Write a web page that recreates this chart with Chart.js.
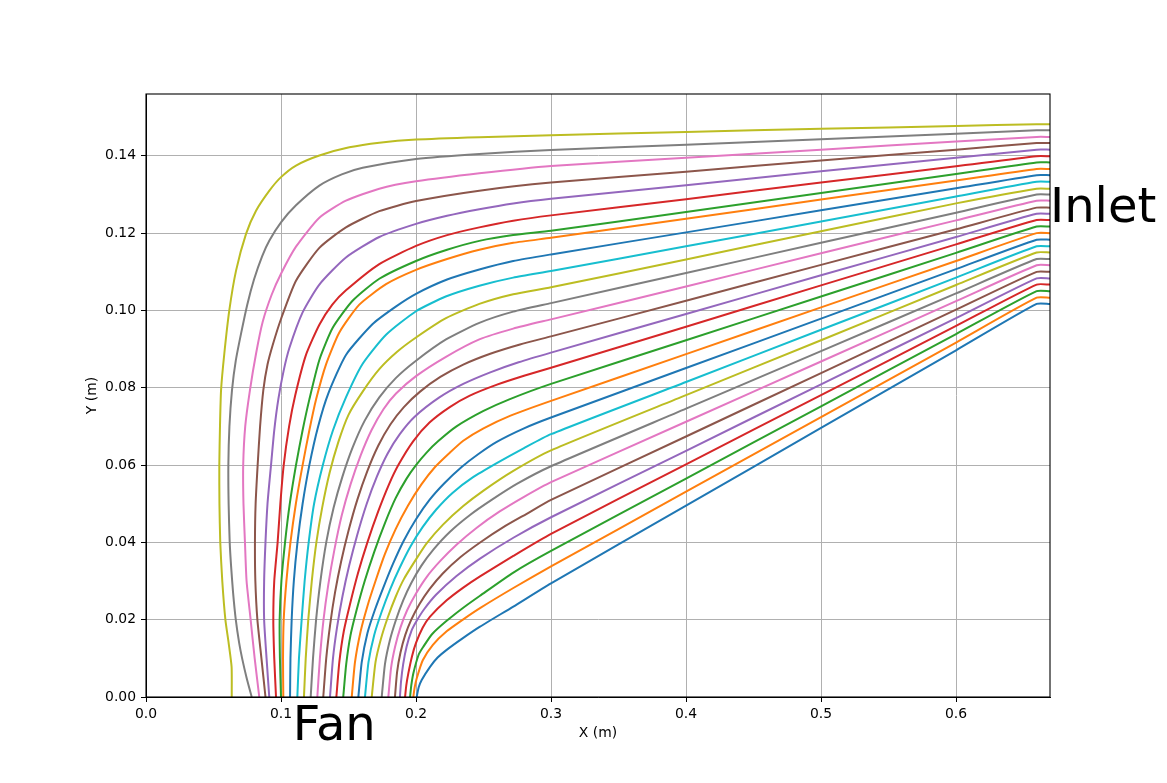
<!DOCTYPE html>
<html>
<head>
<meta charset="utf-8">
<title>Streamlines</title>
<script src="https://cdn.jsdelivr.net/npm/chart.js@4/dist/chart.umd.min.js"></script>
<style>
  html, body { margin: 0; padding: 0; background: #fff; }
  #wrap { width: 1167px; height: 783px; }
</style>
</head>
<body>
<div id="wrap"><canvas id="flowChart" width="1167" height="783"></canvas></div>
<script>
// --- Axis ticks ---
const xTicks = [0, 0.1, 0.2, 0.3, 0.4, 0.5, 0.6];
const yTicks = [0, 0.02, 0.04, 0.06, 0.08, 0.10, 0.12, 0.14];
const xMax = 0.6696;
const yMax = 0.156;

// --- Streamlines, [x, y] in metres, bottom (fan) to right (inlet) ---
const s00 = [[0.2005,0],[0.2020,0.0025],[0.2042,0.0044],[0.2104,0.0078],[0.2160,0.0102],[0.2227,0.0122],[0.2350,0.0153],[0.2474,0.0182],[0.2721,0.0234],[0.3000,0.0294],[0.4000,0.0495],[0.5000,0.0696],[0.6000,0.0897],[0.6597,0.1017],[0.6696,0.1017]];
const s01 = [[0.1980,0],[0.1990,0.0025],[0.2005,0.0048],[0.2050,0.0095],[0.2125,0.0135],[0.2227,0.0170],[0.2350,0.0201],[0.2474,0.0230],[0.2721,0.0282],[0.3000,0.0338],[0.4000,0.0531],[0.5000,0.0724],[0.6000,0.0917],[0.6597,0.1033],[0.6696,0.1033]];
const s02 = [[0.1956,0],[0.1965,0.0030],[0.1980,0.0061],[0.2020,0.0110],[0.2054,0.0130],[0.2120,0.0163],[0.2227,0.0197],[0.2350,0.0231],[0.2474,0.0262],[0.2721,0.0322],[0.3000,0.0378],[0.4000,0.0565],[0.5000,0.0752],[0.6000,0.0939],[0.6597,0.1050],[0.6696,0.1050]];
const s03 = [[0.1919,0],[0.1928,0.0030],[0.1943,0.0061],[0.1970,0.0105],[0.2000,0.0140],[0.2050,0.0180],[0.2104,0.0208],[0.2227,0.0250],[0.2350,0.0283],[0.2474,0.0312],[0.2721,0.0365],[0.3000,0.0422],[0.4000,0.0602],[0.5000,0.0781],[0.6000,0.0960],[0.6597,0.1067],[0.6696,0.1067]];
const s04 = [[0.1881,0],[0.1889,0.0040],[0.1905,0.0085],[0.1930,0.0130],[0.1965,0.0170],[0.2005,0.0197],[0.2060,0.0227],[0.2150,0.0265],[0.2300,0.0313],[0.2474,0.0358],[0.2721,0.0412],[0.3000,0.0465],[0.4000,0.0637],[0.5000,0.0809],[0.6000,0.0980],[0.6597,0.1083],[0.6696,0.1083]];
const s05 = [[0.1844,0],[0.1860,0.0065],[0.1885,0.0115],[0.1920,0.0160],[0.1965,0.0200],[0.2025,0.0240],[0.2100,0.0279],[0.2200,0.0320],[0.2330,0.0362],[0.2480,0.0401],[0.2650,0.0440],[0.2820,0.0474],[0.3000,0.0510],[0.4000,0.0674],[0.5000,0.0838],[0.6000,0.1002],[0.6597,0.1100],[0.6696,0.1100]];
const s06 = [[0.1795,0],[0.1815,0.0075],[0.1845,0.0130],[0.1885,0.0180],[0.1935,0.0225],[0.2000,0.0268],[0.2080,0.0311],[0.2180,0.0352],[0.2300,0.0394],[0.2450,0.0438],[0.2620,0.0480],[0.2800,0.0518],[0.3000,0.0556],[0.4000,0.0712],[0.5000,0.0868],[0.6000,0.1024],[0.6597,0.1117],[0.6696,0.1117]];
const s07 = [[0.1746,0],[0.1770,0.0085],[0.1805,0.0145],[0.1850,0.0198],[0.1905,0.0250],[0.1965,0.0295],[0.2040,0.0340],[0.2130,0.0382],[0.2250,0.0427],[0.2400,0.0471],[0.2560,0.0510],[0.2750,0.0552],[0.3000,0.0597],[0.4000,0.0746],[0.5000,0.0895],[0.6000,0.1044],[0.6597,0.1133],[0.6696,0.1133]];
const s08 = [[0.1672,0],[0.1700,0.0090],[0.1740,0.0150],[0.1790,0.0205],[0.1850,0.0260],[0.1910,0.0305],[0.2000,0.0356],[0.2080,0.0398],[0.2200,0.0446],[0.2350,0.0494],[0.2500,0.0534],[0.2721,0.0585],[0.3000,0.0638],[0.4000,0.0781],[0.5000,0.0923],[0.6000,0.1066],[0.6597,0.1150],[0.6696,0.1150]];
const s09 = [[0.1622,0],[0.1648,0.0090],[0.1690,0.0160],[0.1745,0.0220],[0.1810,0.0280],[0.1880,0.0335],[0.1960,0.0390],[0.2050,0.0440],[0.2150,0.0485],[0.2270,0.0528],[0.2420,0.0568],[0.2598,0.0605],[0.2800,0.0644],[0.3000,0.0680],[0.4000,0.0815],[0.5000,0.0950],[0.6000,0.1085],[0.6597,0.1166],[0.6696,0.1166]];
const s10 = [[0.1573,0],[0.1598,0.0090],[0.1640,0.0165],[0.1695,0.0225],[0.1760,0.0285],[0.1830,0.0345],[0.1910,0.0405],[0.2000,0.0460],[0.2100,0.0510],[0.2210,0.0553],[0.2338,0.0595],[0.2460,0.0628],[0.2598,0.0660],[0.2800,0.0695],[0.3000,0.0723],[0.4000,0.0851],[0.5000,0.0979],[0.6000,0.1107],[0.6597,0.1183],[0.6696,0.1183]];
const s11 = [[0.1524,0],[0.1548,0.0090],[0.1590,0.0170],[0.1640,0.0235],[0.1700,0.0300],[0.1770,0.0370],[0.1850,0.0435],[0.1940,0.0495],[0.2040,0.0550],[0.2141,0.0595],[0.2250,0.0632],[0.2350,0.0663],[0.2500,0.0695],[0.2700,0.0728],[0.3000,0.0766],[0.4000,0.0887],[0.5000,0.1008],[0.6000,0.1128],[0.6597,0.1200],[0.6696,0.1200]];
const s12 = [[0.1461,0],[0.1483,0.0085],[0.1515,0.0160],[0.1560,0.0225],[0.1620,0.0300],[0.1690,0.0375],[0.1770,0.0450],[0.1850,0.0515],[0.1930,0.0565],[0.2000,0.0600],[0.2080,0.0633],[0.2165,0.0662],[0.2300,0.0700],[0.2500,0.0740],[0.2691,0.0770],[0.3000,0.0810],[0.4000,0.0923],[0.5000,0.1036],[0.6000,0.1149],[0.6597,0.1217],[0.6696,0.1217]];
const s13 = [[0.1410,0],[0.1432,0.0090],[0.1465,0.0170],[0.1511,0.0240],[0.1570,0.0320],[0.1640,0.0400],[0.1720,0.0480],[0.1800,0.0550],[0.1869,0.0600],[0.1980,0.0662],[0.2100,0.0710],[0.2250,0.0750],[0.2395,0.0779],[0.2600,0.0808],[0.2800,0.0831],[0.3000,0.0852],[0.4000,0.0958],[0.5000,0.1065],[0.6000,0.1171],[0.6597,0.1234],[0.6696,0.1234]];
const s14 = [[0.1363,0],[0.1385,0.0100],[0.1415,0.0180],[0.1455,0.0260],[0.1505,0.0340],[0.1565,0.0420],[0.1635,0.0500],[0.1710,0.0570],[0.1790,0.0630],[0.1880,0.0680],[0.1990,0.0725],[0.2173,0.0775],[0.2350,0.0810],[0.2550,0.0840],[0.2760,0.0866],[0.3000,0.0891],[0.4000,0.0991],[0.5000,0.1091],[0.6000,0.1190],[0.6597,0.1250],[0.6696,0.1250]];
const s15 = [[0.1313,0],[0.1335,0.0100],[0.1365,0.0190],[0.1400,0.0270],[0.1445,0.0350],[0.1500,0.0430],[0.1565,0.0510],[0.1640,0.0585],[0.1720,0.0650],[0.1810,0.0705],[0.1910,0.0750],[0.2030,0.0790],[0.2180,0.0828],[0.2350,0.0860],[0.2550,0.0888],[0.2770,0.0912],[0.3000,0.0933],[0.4000,0.1025],[0.5000,0.1118],[0.6000,0.1210],[0.6597,0.1266],[0.6696,0.1266]];
const s16 = [[0.1269,0],[0.1288,0.0100],[0.1315,0.0200],[0.1350,0.0290],[0.1395,0.0380],[0.1450,0.0470],[0.1515,0.0550],[0.1590,0.0625],[0.1670,0.0690],[0.1760,0.0745],[0.1852,0.0785],[0.2000,0.0830],[0.2222,0.0880],[0.2469,0.0925],[0.2720,0.0953],[0.3000,0.0977],[0.4000,0.1062],[0.5000,0.1148],[0.6000,0.1233],[0.6597,0.1284],[0.6696,0.1284]];
const s17 = [[0.1220,0],[0.1237,0.0100],[0.1260,0.0200],[0.1292,0.0300],[0.1335,0.0400],[0.1390,0.0490],[0.1455,0.0570],[0.1530,0.0645],[0.1620,0.0715],[0.1728,0.0775],[0.1850,0.0825],[0.2000,0.0870],[0.2222,0.0925],[0.2469,0.0968],[0.2720,0.0997],[0.3000,0.1019],[0.4000,0.1097],[0.5000,0.1175],[0.6000,0.1253],[0.6597,0.1300],[0.6696,0.1300]];
const s18 = [[0.1170,0],[0.1183,0.0100],[0.1202,0.0200],[0.1228,0.0300],[0.1262,0.0400],[0.1305,0.0490],[0.1360,0.0580],[0.1425,0.0660],[0.1500,0.0730],[0.1605,0.0790],[0.1728,0.0848],[0.1860,0.0893],[0.2000,0.0930],[0.2222,0.0980],[0.2469,0.1017],[0.2720,0.1042],[0.3000,0.1060],[0.4000,0.1132],[0.5000,0.1205],[0.6000,0.1277],[0.6597,0.1315],[0.6696,0.1315]];
const s19 = [[0.1121,0],[0.1133,0.0100],[0.1153,0.0200],[0.1175,0.0300],[0.1205,0.0400],[0.1245,0.0500],[0.1310,0.0600],[0.1385,0.0690],[0.1481,0.0775],[0.1605,0.0862],[0.1778,0.0937],[0.2000,0.0998],[0.2220,0.1036],[0.2469,0.1064],[0.2720,0.1085],[0.3000,0.1102],[0.4000,0.1166],[0.5000,0.1230],[0.6000,0.1295],[0.6597,0.1333],[0.6696,0.1333]];
const s20 = [[0.1067,0],[0.1070,0.0100],[0.1079,0.0200],[0.1095,0.0300],[0.1122,0.0400],[0.1160,0.0500],[0.1210,0.0600],[0.1275,0.0700],[0.1350,0.0785],[0.1481,0.0885],[0.1679,0.0965],[0.1850,0.1010],[0.2000,0.1043],[0.2230,0.1080],[0.2469,0.1106],[0.2720,0.1128],[0.3000,0.1145],[0.4000,0.1202],[0.5000,0.1259],[0.6000,0.1316],[0.6597,0.1350],[0.6696,0.1350]];
const s21 = [[0.1017,0],[0.1015,0.0100],[0.1020,0.0200],[0.1040,0.0300],[0.1070,0.0400],[0.1110,0.0500],[0.1160,0.0600],[0.1210,0.0690],[0.1260,0.0770],[0.1333,0.0860],[0.1432,0.0943],[0.1580,0.1015],[0.1778,0.1068],[0.2000,0.1105],[0.2230,0.1133],[0.2469,0.1157],[0.2720,0.1175],[0.3000,0.1188],[0.4000,0.1237],[0.5000,0.1287],[0.6000,0.1336],[0.6597,0.1366],[0.6696,0.1366]];
const s22 = [[0.1000,0],[0.0992,0.0100],[0.0990,0.0200],[0.1003,0.0300],[0.1030,0.0400],[0.1065,0.0500],[0.1111,0.0600],[0.1160,0.0690],[0.1210,0.0770],[0.1284,0.0872],[0.1383,0.0955],[0.1530,0.1025],[0.1728,0.1082],[0.2000,0.1128],[0.2230,0.1157],[0.2469,0.1180],[0.2720,0.1195],[0.3000,0.1206],[0.4000,0.1255],[0.5000,0.1304],[0.6000,0.1353],[0.6597,0.1383],[0.6696,0.1383]];
const s23 = [[0.0963,0],[0.0950,0.0100],[0.0943,0.0200],[0.0950,0.0300],[0.0975,0.0400],[0.0995,0.0500],[0.1020,0.0600],[0.1060,0.0700],[0.1105,0.0780],[0.1185,0.0885],[0.1284,0.0963],[0.1380,0.1015],[0.1481,0.1052],[0.1728,0.1120],[0.2000,0.1167],[0.2230,0.1195],[0.2469,0.1215],[0.2720,0.1232],[0.3000,0.1246],[0.4000,0.1288],[0.5000,0.1331],[0.6000,0.1373],[0.6597,0.1399],[0.6696,0.1399]];
const s24 = [[0.0913,0],[0.0893,0.0100],[0.0875,0.0200],[0.0875,0.0300],[0.0885,0.0400],[0.0900,0.0500],[0.0926,0.0600],[0.0950,0.0690],[0.0980,0.0770],[0.1020,0.0845],[0.1062,0.0903],[0.1160,0.0995],[0.1284,0.1067],[0.1481,0.1137],[0.1728,0.1190],[0.2000,0.1224],[0.2230,0.1245],[0.2469,0.1262],[0.2720,0.1277],[0.3000,0.1289],[0.4000,0.1324],[0.5000,0.1360],[0.6000,0.1395],[0.6597,0.1416],[0.6696,0.1416]];
const s25 = [[0.0885,0],[0.0855,0.0100],[0.0825,0.0200],[0.0810,0.0300],[0.0807,0.0400],[0.0812,0.0500],[0.0827,0.0600],[0.0845,0.0700],[0.0869,0.0794],[0.0900,0.0860],[0.0938,0.0910],[0.1000,0.0978],[0.1111,0.1077],[0.1284,0.1162],[0.1481,0.1215],[0.1728,0.1257],[0.2000,0.1283],[0.2469,0.1310],[0.3000,0.1331],[0.4000,0.1359],[0.5000,0.1388],[0.6000,0.1416],[0.6597,0.1433],[0.6696,0.1433]];
const s26 = [[0.0839,0],[0.0805,0.0100],[0.0775,0.0200],[0.0745,0.0300],[0.0733,0.0400],[0.0722,0.0500],[0.0720,0.0600],[0.0735,0.0700],[0.0770,0.0794],[0.0815,0.0888],[0.0864,0.0970],[0.0930,0.1040],[0.1000,0.1095],[0.1111,0.1165],[0.1284,0.1240],[0.1481,0.1284],[0.1728,0.1315],[0.2000,0.1334],[0.2469,0.1355],[0.3000,0.1374],[0.4000,0.1395],[0.5000,0.1416],[0.6000,0.1437],[0.6597,0.1449],[0.6696,0.1449]];
const s27 = [[0.0783,0],[0.0745,0.0050],[0.0712,0.0100],[0.0690,0.0140],[0.0665,0.0200],[0.0645,0.0270],[0.0630,0.0340],[0.0620,0.0400],[0.0612,0.0500],[0.0610,0.0600],[0.0618,0.0700],[0.0637,0.0794],[0.0665,0.0870],[0.0704,0.0940],[0.0750,0.1015],[0.0800,0.1080],[0.0860,0.1140],[0.0914,0.1181],[0.1000,0.1228],[0.1111,0.1272],[0.1284,0.1323],[0.1450,0.1352],[0.1605,0.1369],[0.2000,0.1392],[0.2469,0.1405],[0.3000,0.1415],[0.4000,0.1429],[0.5000,0.1443],[0.6000,0.1457],[0.6597,0.1466],[0.6696,0.1466]];
const s28 = [[0.0635,0],[0.0634,0.0078],[0.0612,0.0140],[0.0588,0.0200],[0.0565,0.0300],[0.0550,0.0400],[0.0544,0.0500],[0.0543,0.0600],[0.0548,0.0700],[0.0556,0.0794],[0.0580,0.0888],[0.0617,0.1000],[0.0667,0.1103],[0.0741,0.1198],[0.0815,0.1258],[0.0914,0.1310],[0.1000,0.1345],[0.1111,0.1375],[0.1284,0.1401],[0.1506,0.1422],[0.1728,0.1434],[0.2000,0.1442],[0.2469,0.1448],[0.3000,0.1453],[0.4000,0.1462],[0.5000,0.1470],[0.6000,0.1477],[0.6597,0.1482],[0.6696,0.1482]];

const streams = [s00, s01, s02, s03, s04, s05, s06, s07, s08, s09, s10, s11, s12, s13, s14,
                 s15, s16, s17, s18, s19, s20, s21, s22, s23, s24, s25, s26, s27, s28];

// --- Labels written on the figure (data coords of text origin) ---
const noteText = ['Fan', 'Inlet'];
const noteX = [0.1087, 0.6696];
const noteY = [-0.0112, 0.1228];

// matplotlib default colour cycle
const tab10 = ['#1f77b4', '#ff7f0e', '#2ca02c', '#d62728', '#9467bd',
               '#8c564b', '#e377c2', '#7f7f7f', '#bcbd22', '#17becf'];

document.addEventListener('DOMContentLoaded', () => {
    const tickFont = { family: 'DejaVu Sans', size: 13.9 };

    // box around the axes, drawn over the lines like matplotlib spines
    const spines = {
        id: 'spines',
        afterDatasetsDraw(chart) {
            const { ctx, chartArea: a } = chart;
            ctx.save();
            ctx.strokeStyle = '#000';
            ctx.lineWidth = 1.1;
            ctx.strokeRect(a.left, a.top, a.right - a.left, a.bottom - a.top);
            ctx.restore();
        }
    };

    // big "Fan" / "Inlet" words
    const notes = {
        id: 'notes',
        afterDraw(chart) {
            const { ctx, scales } = chart;
            ctx.save();
            ctx.font = '48px "DejaVu Sans"';
            ctx.fillStyle = '#000';
            ctx.textAlign = 'left';
            ctx.textBaseline = 'alphabetic';
            noteText.forEach((t, i) => {
                ctx.fillText(t, scales.x.getPixelForValue(noteX[i]), scales.y.getPixelForValue(noteY[i]));
            });
            ctx.restore();
        }
    };

    const ctx = document.getElementById('flowChart').getContext('2d');
    new Chart(ctx, {
        type: 'scatter',
        data: {
            datasets: streams.map((pts, i) => ({
                data: pts.map(p => ({ x: p[0], y: p[1] })),
                showLine: true,
                borderColor: tab10[i % 10],
                borderWidth: 2,
                borderJoinStyle: 'round',
                pointRadius: 0,
                pointHoverRadius: 0,
                fill: false,
                tension: 0.2
            }))
        },
        options: {
            responsive: false,
            devicePixelRatio: 1,
            animation: false,
            layout: { padding: { left: 0, right: 117, top: 94, bottom: 0 } },
            plugins: {
                legend: { display: false },
                tooltip: { enabled: false }
            },
            scales: {
                x: {
                    type: 'linear',
                    min: 0,
                    max: xMax,
                    afterFit: s => { s.height = 86; },
                    afterBuildTicks: s => { s.ticks = xTicks.map(v => ({ value: v })); },
                    ticks: { autoSkip: false, maxRotation: 0, padding: 4, color: '#000', font: tickFont,
                             callback: v => Number(v).toFixed(1) },
                    grid: { color: '#b0b0b0', lineWidth: 1, tickLength: 5, tickColor: '#000', tickWidth: 1 },
                    border: { color: '#000', width: 1 },
                    title: { display: true, text: 'X (m)', color: '#000', font: tickFont,
                             padding: { top: 0, bottom: 41.5 } }
                },
                y: {
                    type: 'linear',
                    min: 0,
                    max: yMax,
                    afterFit: s => { s.width = 146; },
                    afterBuildTicks: s => { s.ticks = yTicks.map(v => ({ value: v })); },
                    ticks: { autoSkip: false, padding: 5, color: '#000', font: tickFont,
                             callback: v => Number(v).toFixed(2) },
                    grid: { color: '#b0b0b0', lineWidth: 1, tickLength: 5, tickColor: '#000', tickWidth: 1 },
                    border: { color: '#000', width: 1 },
                    title: { display: true, text: 'Y (m)', color: '#000', font: tickFont,
                             padding: { top: 84, bottom: 0 } }
                }
            }
        },
        plugins: [spines, notes]
    });
});
</script>
</body>
</html>
